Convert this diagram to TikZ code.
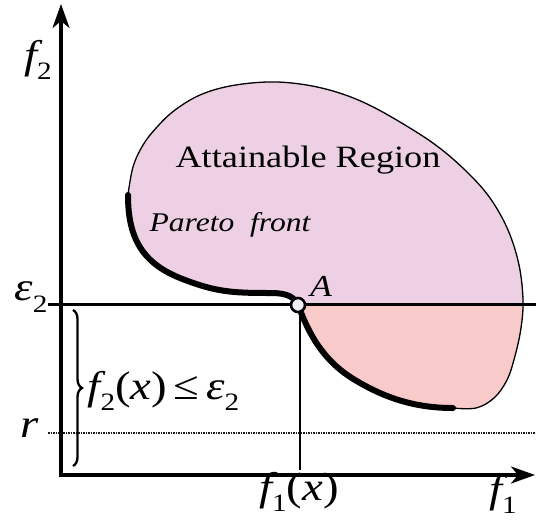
\documentclass[tikz,border=0pt]{standalone}
\usepackage{fontspec}
\setmainfont{Liberation Serif}[FakeStretch=1.17]
\usetikzlibrary{arrows.meta,decorations.pathreplacing}
\definecolor{regup}{RGB}{238,208,228}
\definecolor{reglow}{RGB}{249,202,202}
\definecolor{ptfill}{RGB}{238,240,244}
\newcommand\fs[2]{\fontsize{#1}{#1}\selectfont #2}
\newcommand\lab[2]{{\itshape #1}\raisebox{-0.28em}{\fontsize{25}{25}\selectfont #2}}
\tikzset{
  axis/.style={line width=3.3pt,-{Stealth[length=24pt,width=17pt,inset=7pt]}},
  front/.style={line width=6pt,line cap=round},
  bound/.style={line width=1.3pt},
  mlabel/.style={font=\fs{40}{}},
}
\begin{document}
\begin{tikzpicture}[x=1pt,y=-1pt]
\useasboundingbox (0,0) rectangle (536,520);
\def\frontpath{(128,195) .. controls (128,235) and (140,262) .. (180,278) .. controls (215,292) and (232,293) .. (270,293) .. controls (290,293) and (294,298) .. (298,305) .. controls (306,325) and (318,358) .. (355,380) .. controls (385,398) and (415,408) .. (453,408)}
\def\regionpath{\frontpath -- plot[smooth,tension=0.6] coordinates {(453,408) (476,408) (494,398) (507,380) (515,356) (521,328) (523,300) (519,265) (508,230) (490,198) (467,172) (437,146) (400,122) (365,103) (333,91) (300,84) (267,82) (230,86) (200,95) (175,110) (157,127) (143,145) (133,167) (128,195)} -- cycle}
% region fill
\fill[regup] \regionpath;
\begin{scope}
  \clip (0,304) rectangle (536,520);
  \fill[reglow] \regionpath;
\end{scope}
\draw[bound] \regionpath;
% epsilon line and r line
\coordinate (e0) at (48,304);
\coordinate (e1) at (536,304);
\draw[line width=3pt] (e0) -- (e1);
\coordinate (r0) at (48,433);
\coordinate (r1) at (536,433);
\draw[line width=2.6pt,dash pattern=on 1.6pt off 0.9pt,black!90] (r0) -- (r1);
% vertical thin line
\coordinate (v0) at (300,304);
\coordinate (v1) at (300,470);
\draw[line width=1.2pt] (v0) -- (v1);
% pareto front
\draw[front] \frontpath;
% axes
\coordinate (O) at (61,475);
\coordinate (ytop) at (61,4);
\coordinate (xend) at (535,475);
\draw[axis] (O) -- (ytop);
\draw[axis] (O) -- (xend);
\draw[line width=3.3pt] (61,473) -- (61,477);
% point A
\node[circle,draw,line width=2.6pt,fill=ptfill,minimum size=14pt,inner sep=0pt] (A) at (298,305) {};
% brace
\draw[line width=2.3pt,decorate,decoration={brace,amplitude=9pt}] (73,310) -- (73,466) coordinate[midway] (bm);
% labels
\node[mlabel] (lf2) at (38,60) {\lab{f}{2}};
\node[mlabel] (le2) at (31,297) {\lab{ε}{2}};
\node[mlabel] (lr) at (30,428) {\itshape r};
\node[mlabel,anchor=west] (lcon) at (84,391) {\lab{f}{2}(\itshape x\upshape)\,≤\,\lab{ε}{2}};
\node[mlabel] (lf1x) at (299,492) {\lab{f}{1}(\itshape x\upshape)};
\node[mlabel] (lf1) at (503,494) {\lab{f}{1}};
\node[font=\fs{30.5}{}\itshape] (lA) at (321,286) {A};
\node[font=\fs{31}{}] (att) at (308,160) {Attainable Region};
\node[font=\fs{27}{}\itshape] (par) at (230,225) {Pareto\ \ front};
\end{tikzpicture}
\end{document}
